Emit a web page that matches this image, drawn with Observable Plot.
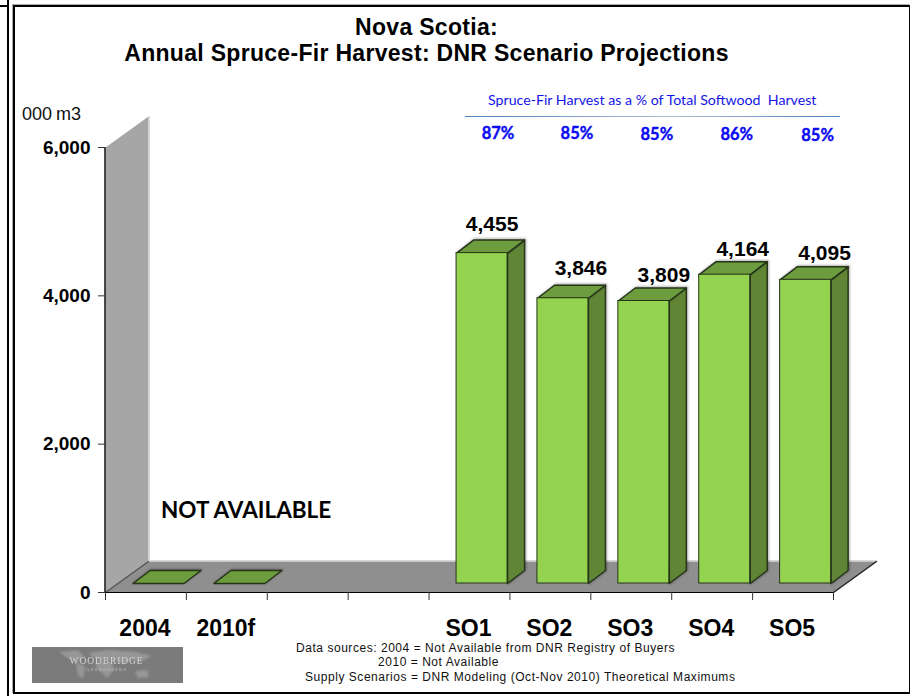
<!DOCTYPE html>
<html>
<head>
<meta charset="utf-8">
<title>Nova Scotia: Annual Spruce-Fir Harvest</title>
<script src="https://cdn.jsdelivr.net/npm/d3@7"></script>
<script src="https://cdn.jsdelivr.net/npm/@observablehq/plot@0.6"></script>
<style>
  html, body { margin: 0; padding: 0; background: #fff; }
  #page { position: relative; width: 910px; height: 696px; overflow: hidden; font-family: "Liberation Sans", Arial, sans-serif; }
  #page svg.chart { position: absolute; left: 0; top: 0; }
  .abs { position: absolute; white-space: pre; }
  .frame { position: absolute; box-sizing: border-box; }
  .title { left: 0; width: 853px; text-align: center; font-weight: bold; font-size: 23px; letter-spacing: 0.3px; color: #000; line-height: 26px; }
  .note { font-size: 12px; color: #111; line-height: 14px; letter-spacing: 0.54px; }
</style>
</head>
<body>
<div id="page">
  <div class="frame" style="left:7px;top:-10px;width:2px;height:720px;background:#000"></div>
  <div class="frame" style="left:0;top:5px;width:8px;height:2px;background:#000"></div>
  <div class="frame" style="left:13px;top:5px;width:897px;height:689px;border:2px solid #000;border-right-width:1px;border-bottom-width:2px;box-shadow:-1px -1px 0 #aaa"></div>

  <div id="logo" class="frame" style="left:32px;top:647px;width:151px;height:36px;background:#7b7b7b;overflow:hidden">
    <svg width="151" height="36" style="position:absolute;left:0;top:0;filter:blur(1px)">
      <g fill="#979797">
        <path d="M27 5 L46 3 L52 9 L47 15 L40 14 L36 11 Z"/>
        <path d="M44 16 L53 19 L51 32 L46 28 Z"/>
        <path d="M56 6 L76 3 L104 5 L120 9 L108 15 L98 13 L92 17 L84 14 L74 13 L64 13 L60 9 Z"/>
        <path d="M64 14 L80 15 L82 23 L75 31 L70 26 L64 20 Z"/>
        <path d="M103 24 L115 23 L117 30 L106 31 Z"/>
      </g>
    </svg>
    <div class="abs" style="left:0;width:149px;top:9px;text-align:center;font:9.5px 'Liberation Serif',serif;letter-spacing:0.9px;color:#d2d2d2;filter:blur(.4px)">WOODBRIDGE</div>
    <div class="abs" style="left:0;width:149px;top:20px;text-align:center;font:5px 'Liberation Serif',serif;letter-spacing:1.2px;color:#c4c4c4">ASSOCIATES</div>
  </div>

  <div id="chart"></div>

  <div class="abs title" style="top:14px;">Nova Scotia:</div>
  <div class="abs title" style="top:40px;">Annual Spruce-Fir Harvest: DNR Scenario Projections</div>
  <div class="abs" style="left:22px;top:104px;font-size:18px;color:#111;word-spacing:-1px">000 m3</div>
  <div class="abs" style="left:161px;top:496px;font:bold 22.5px Lato,sans-serif;color:#000">NOT AVAILABLE</div>
  <div class="abs" style="left:488px;top:91px;font:14.2px Lato,sans-serif;color:#1414e6">Spruce-Fir Harvest as a % of Total Softwood  Harvest</div>
  <div class="frame" style="left:465px;top:116px;width:375px;height:1px;background:linear-gradient(90deg,#4f81bd,#a9bedb 55%,#4f81bd)"></div>
  <div class="abs note" style="left:296px;top:641px">Data sources: 2004 = Not Available from DNR Registry of Buyers</div>
  <div class="abs note" style="left:378px;top:655px">2010 = Not Available</div>
  <div class="abs note" style="left:305px;top:670px">Supply Scenarios = DNR Modeling (Oct-Nov 2010) Theoretical Maximums</div>
</div>
<script>
// Harvest by scenario, thousand cubic metres. The 2004 and 2010 figures are
// not available and are drawn as flat tiles on the floor.
const categories = ["2004", "2010f", "SO1", "SO2", "SO3", "SO4", "SO5"];
const harvest = [0, 0, 4455, 3846, 3809, 4164, 4095];
const softwoodShare = [null, null, "87%", "85%", "85%", "86%", "85%"];
const yTicks = [0, 2000, 4000, 6000];

// Horizontal layout: nine equal slots, two of them left empty before SO1.
const slotCount = 9;
const slotOf = [0, 1, 4, 5, 6, 7, 8];

const width = 910, height = 696;
const margin = {top: 147, right: 77, bottom: 104, left: 105};
const unitX = (width - margin.left - margin.right) / slotCount; // px per slot
const unitY = (height - margin.top - margin.bottom) / 6000;     // px per m3 unit

const px = (v) => v / unitX;
const py = (v) => v / unitY;

// The 3-D look: box faces are offset polygons expressed in data units.
const wallDepth = {x: px(43), y: py(31)};
const boxDepth = {x: px(17), y: py(13)};
const boxLeft = px(27.5), boxRight = px(78.5);
const boxLift = -9;

const rows = categories.map((name, i) => ({
  name,
  value: harvest[i],
  share: softwoodShare[i],
  x1: slotOf[i] + boxLeft,
  x2: slotOf[i] + boxRight
}));
const solid = rows.filter((d) => d.value > 0);

const polygon = (id, pts) => [...pts, pts[0]].map(([x, y]) => ({id, x, y}));

const wall = polygon("wall", [
  [0, 0], [0, 6000], [wallDepth.x, 6000 + wallDepth.y], [wallDepth.x, wallDepth.y]
]);
const floor = polygon("floor", [
  [0, 0], [slotCount, 0], [slotCount + wallDepth.x, wallDepth.y], [wallDepth.x, wallDepth.y]
]);
const tops = rows.flatMap((d) => polygon(d.name, [
  [d.x1, d.value], [d.x2, d.value],
  [d.x2 + boxDepth.x, d.value + boxDepth.y], [d.x1 + boxDepth.x, d.value + boxDepth.y]
]));
const sides = solid.flatMap((d) => polygon(d.name, [
  [d.x2, 0], [d.x2, d.value],
  [d.x2 + boxDepth.x, d.value + boxDepth.y], [d.x2 + boxDepth.x, boxDepth.y]
]));

// Hand-placed label offsets so numbers clear the box tops, in pixels.
const valueNudge = {
  SO1: [10, -29], SO2: [18, -30], SO3: [20, -26], SO4: [18, -25], SO5: [19, -27]
};
const shareNudge = {
  SO1: [16, -14], SO2: [14, -14], SO3: [13, -13], SO4: [12, -13], SO5: [12, -12]
};

const boxEdge = "#26351a";
const lineFont = {fontFamily: "Liberation Sans, Arial, sans-serif", fontWeight: "bold"};

const chart = Plot.plot({
  width, height,
  marginTop: margin.top, marginRight: margin.right,
  marginBottom: margin.bottom, marginLeft: margin.left,
  className: "chart",
  style: {background: "transparent", overflow: "visible"},
  x: {domain: [0, slotCount]},
  y: {domain: [0, 6000]},
  marks: [
    // back wall and floor, each with a pale lit edge
    Plot.line(wall, {x: "x", y: "y", z: "id", fill: "#a6a6a6", stroke: "none"}),
    Plot.line(floor, {x: "x", y: "y", z: "id", fill: "#8f8f8f", stroke: "none"}),
    Plot.ruleX([wallDepth.x], {y1: wallDepth.y, y2: 6000 + wallDepth.y, stroke: "#d8d8d8", dx: 1}),
    Plot.ruleY([wallDepth.y], {x1: wallDepth.x, x2: slotCount + wallDepth.x, stroke: "#d8d8d8", dy: -1}),
    Plot.line([{x: 0, y: 0}, {x: wallDepth.x, y: wallDepth.y}], {x: "x", y: "y", stroke: "#555"}),
    Plot.line([{x: slotCount, y: 0}, {x: slotCount + wallDepth.x, y: wallDepth.y}], {x: "x", y: "y", stroke: "#222"}),

    // axes
    Plot.ruleX([0], {stroke: "#000", strokeWidth: 1.4, dx: -0.5}),
    Plot.ruleY([0], {stroke: "#000", strokeWidth: 1.2}),
    Plot.axisY({
      ticks: yTicks, tickFormat: d3.format(","), tickSize: 7, tickPadding: 8,
      label: null, fontSize: 19, stroke: "#333", ...lineFont, fill: "#000"
    }),
    Plot.axisX({ticks: d3.range(slotCount + 1), tickFormat: () => "", tickSize: 8, label: null, stroke: "#333"}),
    Plot.text(rows, {
      x: (d) => d.x1 - boxLeft + 0.5, y: () => 0, text: "name",
      dx: -1, dy: 36, fontSize: 23, fill: "#000", ...lineFont
    }),

    // boxes: side, top, front
    Plot.line(sides, {
      x: "x", y: "y", z: "id", dy: boxLift, fill: "#5f8535", stroke: boxEdge,
      imageFilter: "drop-shadow(1px 0 1px rgba(0,0,0,.3))"
    }),
    Plot.line(tops, {
      x: "x", y: "y", z: "id", dy: boxLift, fill: "#6c9c3d", stroke: boxEdge,
      imageFilter: "drop-shadow(1px -1px 1px rgba(0,0,0,.3))"
    }),
    Plot.rect(solid, {
      x1: "x1", x2: "x2", y1: () => 0, y2: "value", dy: boxLift,
      fill: "#93d350", stroke: boxEdge
    }),

    // value and share labels
    ...solid.map((d) => Plot.text([d], {
      x: (r) => (r.x1 + r.x2) / 2, y: "value", text: (r) => d3.format(",")(r.value),
      dx: valueNudge[d.name][0], dy: valueNudge[d.name][1] + boxLift,
      fontSize: 21, fill: "#000", ...lineFont
    })),
    ...solid.map((d) => Plot.text([d], {
      x: (r) => (r.x1 + r.x2) / 2, y: () => 6000, text: "share",
      dx: shareNudge[d.name][0], dy: shareNudge[d.name][1],
      fontSize: 16.5, fontFamily: "Lato, sans-serif", fontWeight: "bold", fill: "#0b0bf0",
      stroke: "#0b0bf0", strokeWidth: 0.4
    }))
  ]
});

document.getElementById("page").insertBefore(chart, document.getElementById("chart"));
</script>
</body>
</html>
